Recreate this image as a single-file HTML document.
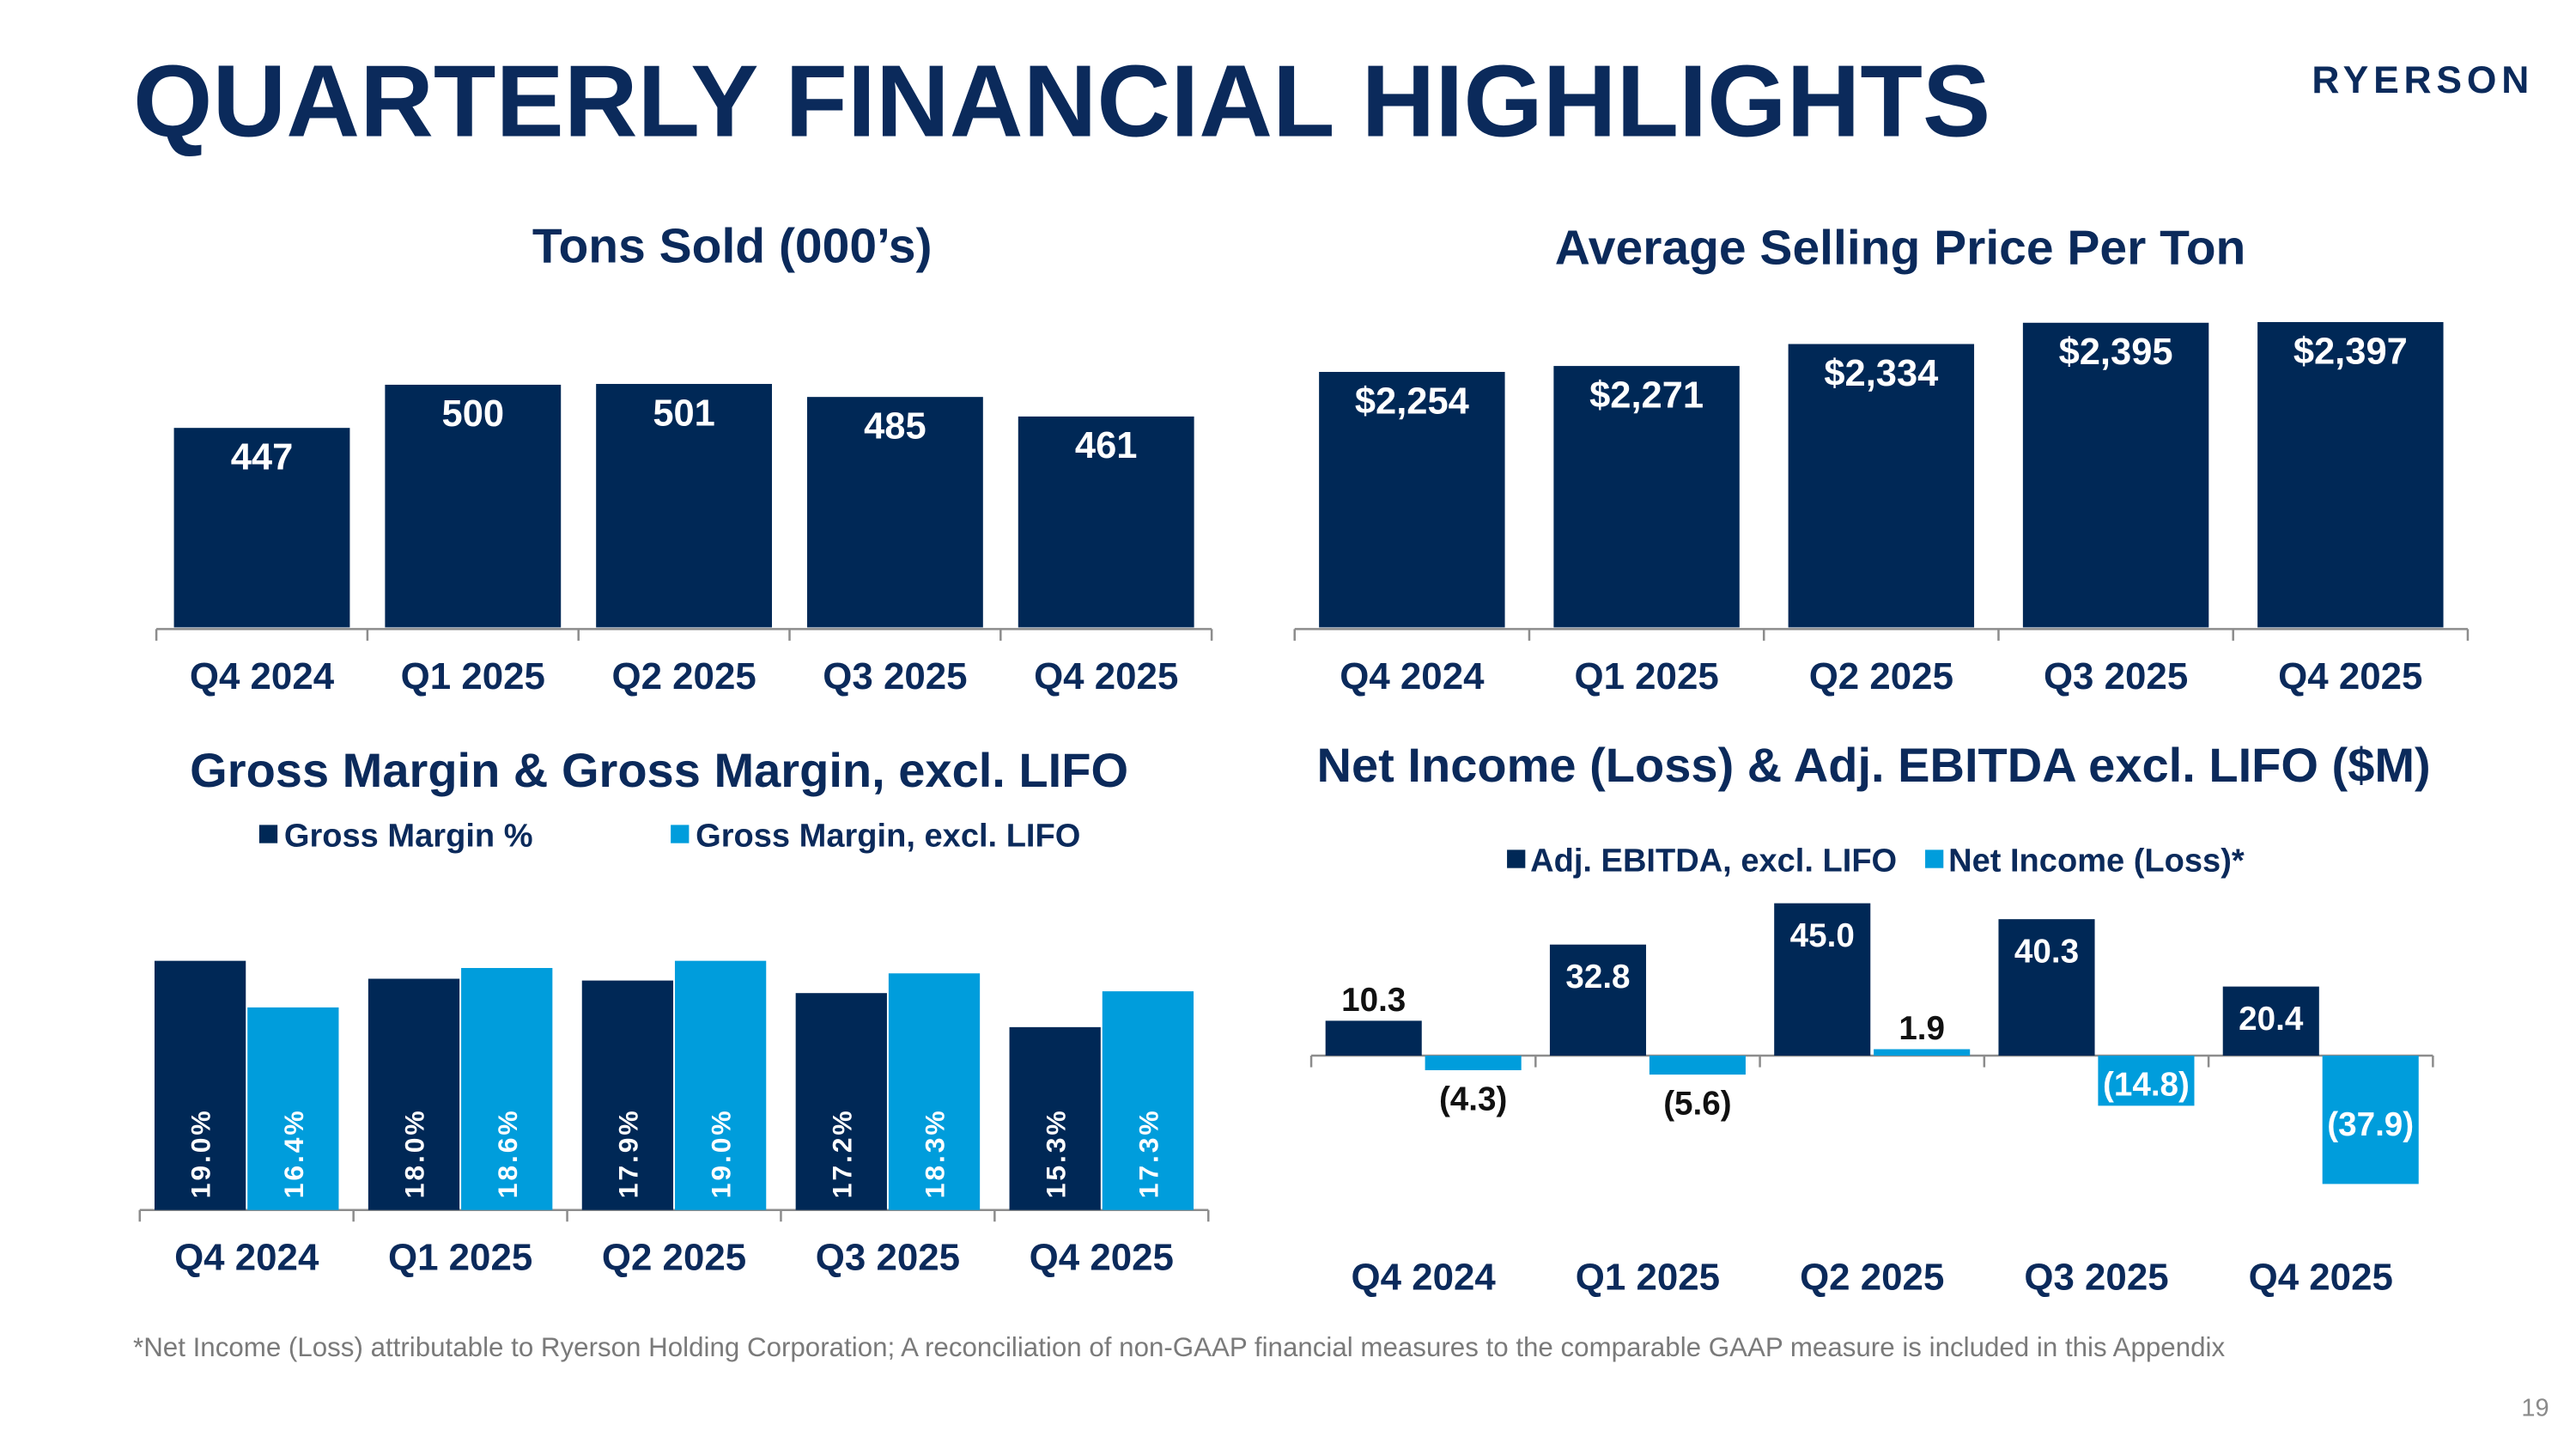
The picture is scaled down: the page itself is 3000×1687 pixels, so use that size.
<!DOCTYPE html>
<html><head><meta charset="utf-8"><style>
html,body{margin:0;padding:0;background:#fff}
svg{display:block;font-family:"Liberation Sans",Arial,sans-serif}
</style></head><body>
<svg id="s" width="3000" height="1687" viewBox="0 0 1552 873" xmlns="http://www.w3.org/2000/svg">
<text x="80" y="82" font-size="61.5" font-weight="bold" fill="#0b2a5b">QUARTERLY FINANCIAL HIGHLIGHTS</text>
<text x="1460" y="56" font-size="23" font-weight="bold" fill="#0b2a5b" text-anchor="middle" letter-spacing="3">RYERSON</text>
<text x="441" y="158" font-size="29.5" font-weight="bold" fill="#0b2a5b" text-anchor="middle">Tons Sold (000’s)</text>
<text x="1145" y="159" font-size="29.5" font-weight="bold" fill="#0b2a5b" text-anchor="middle">Average Selling Price Per Ton</text>
<text x="397" y="474" font-size="29" font-weight="bold" fill="#0b2a5b" text-anchor="middle">Gross Margin &amp; Gross Margin, excl. LIFO</text>
<text x="1129" y="471" font-size="29" font-weight="bold" fill="#0b2a5b" text-anchor="middle">Net Income (Loss) &amp; Adj. EBITDA excl. LIFO ($M)</text>
<g>
<rect x="156" y="497" width="11" height="11" fill="#002856"/><text x="171" y="510" font-size="19.7" font-weight="bold" fill="#0b2a5b">Gross Margin %</text>
<rect x="404" y="497" width="11" height="11" fill="#009ddc"/><text x="419" y="510" font-size="19.7" font-weight="bold" fill="#0b2a5b">Gross Margin, excl. LIFO</text>
</g>
<g>
<rect x="908" y="512" width="11" height="11" fill="#002856"/><text x="922" y="525" font-size="19.7" font-weight="bold" fill="#0b2a5b">Adj. EBITDA, excl. LIFO</text>
<rect x="1160" y="512" width="11" height="11" fill="#009ddc"/><text x="1174" y="525" font-size="19.7" font-weight="bold" fill="#0b2a5b">Net Income (Loss)*</text>
</g>
<text x="80" y="817" font-size="16.2" fill="#7a7a7a">*Net Income (Loss) attributable to Ryerson Holding Corporation; A reconciliation of non-GAAP financial measures to the comparable GAAP measure is included in this Appendix</text>
<text x="1536" y="853" font-size="15" fill="#8a8a8a" text-anchor="end">19</text>
<g id="charts"></g>
</svg>
<script>
const categories=["Q4 2024","Q1 2025","Q2 2025","Q3 2025","Q4 2025"];
const tons=[447,500,501,485,461];
const price=[2254,2271,2334,2395,2397];
const priceLabels=["$2,254","$2,271","$2,334","$2,395","$2,397"];
const grossMargin=[19.0,18.0,17.9,17.2,15.3];
const grossMarginExLifo=[16.4,18.6,19.0,18.3,17.3];
const ebitda=[10.3,32.8,45.0,40.3,20.4];
const netIncome=[-4.3,-5.6,1.9,-14.8,-37.9];
const NS="http://www.w3.org/2000/svg";
const root=document.getElementById('charts');
const DARK="#002856",LIGHT="#009ddc",NAVY="#0b2a5b";
function el(tag,attrs,parent){const e=document.createElementNS(NS,tag);for(const k in attrs)e.setAttribute(k,attrs[k]);(parent||root).appendChild(e);return e;}
function txt(s,attrs,parent){const t=el('text',attrs,parent);t.textContent=s;return t;}
function axis(x0,x1,y,n,labelY,name){
  const g=el('g',{});
  
  
  el('line',{x1:x0,x2:x1,y1:y,y2:y,stroke:"#8c8c8c","stroke-width":1.3},g);
  const w=(x1-x0)/n;
  for(let i=0;i<=n;i++)el('line',{x1:x0+i*w,x2:x0+i*w,y1:y,y2:y+7,stroke:"#8c8c8c","stroke-width":1.3},g);
  categories.forEach((c,i)=>{const t=txt(c,{x:x0+w*(i+0.5),y:labelY,"font-size":22.7,"font-weight":"bold",fill:NAVY,"text-anchor":"middle"},g);
    
    });
  return w;
}
// Tons
(function(){
  const x0=94,x1=730,base=378,k=0.4906,m=202;
  const w=axis(x0,x1,base+1,5,415,'tons-x-axis');
  const y=v=>base-(v-m)*k;
  tons.forEach((v,i)=>{const cx=x0+w*(i+0.5);
    const r=el('rect',{x:cx-53,y:y(v),width:106,height:base-y(v),fill:DARK});
    
    
    const t=txt(String(v),{x:cx,y:y(v)+25,"font-size":22.5,"font-weight":"bold",fill:"#fff","text-anchor":"middle"});
    
    });
})();
// Price
(function(){
  const x0=780,x1=1487,base=378,k=0.21,m=1521;
  const w=axis(x0,x1,base+1,5,415,'price-x-axis');
  const y=v=>base-(v-m)*k;
  price.forEach((v,i)=>{const cx=x0+w*(i+0.5);
    const r=el('rect',{x:cx-56,y:y(v),width:112,height:base-y(v),fill:DARK});
    
    
    const t=txt(priceLabels[i],{x:cx,y:y(v)+25,"font-size":22.5,"font-weight":"bold",fill:"#fff","text-anchor":"middle"});
    
    });
})();
// Gross margin
(function(){
  const x0=84,x1=728,base=729,k=10.8,m=5.1;
  const w=axis(x0,x1,base,5,765,'margin-x-axis');
  const y=v=>base-(v-m)*k;
  [[grossMargin,DARK,-55.5],[grossMarginExLifo,LIGHT,0.5]].forEach(([arr,col,off])=>{
    arr.forEach((v,i)=>{const cx=x0+w*(i+0.5);
      const r=el('rect',{x:cx+off,y:y(v),width:55,height:base-y(v),fill:col});
      
      
      const lx=cx+off+27.5+6;
      const t=txt(v.toFixed(1)+'%',{x:lx,y:722,"font-size":16.5,"font-weight":"bold",fill:"#fff",transform:`rotate(-90 ${lx} 722)`,"letter-spacing":1.5});
      
      });
  });
})();
// Net income & EBITDA
(function(){
  const x0=790,x1=1466,zero=636,k=2.04;
  const w=axis(x0,x1,zero,5,777,'income-x-axis');
  const y=v=>zero-v*k;
  const fmt=v=>v<0?'('+Math.abs(v).toFixed(1)+')':v.toFixed(1);
  ebitda.forEach((v,i)=>{const cx=x0+w*(i+0.5);
    const r=el('rect',{x:cx-59,y:y(v),width:58,height:v*k,fill:DARK});
    
    
    const t=txt(fmt(v),{x:cx-30,y:y(v)-6,"font-size":20,"font-weight":"bold",fill:v>15?"#fff":"#111","text-anchor":"middle"});
    if(v>15)t.setAttribute('y',y(v)+26);
    
    });
  netIncome.forEach((v,i)=>{const cx=x0+w*(i+0.5);
    const top=Math.min(y(v),zero),h=Math.abs(v)*k;
    const r=el('rect',{x:cx+1,y:top,width:58,height:h,fill:LIGHT});
    
    
    let ty,fill="#111";
    if(v>=0){ty=top-6;}
    else if(h>25){ty=zero+24;fill="#fff";if(h>50)ty=zero+48;}
    else{ty=zero+h+24;}
    const t=txt(fmt(v),{x:cx+30,y:ty,"font-size":20,"font-weight":"bold",fill:fill,"text-anchor":"middle"});
    
    });
})();
</script>
</body></html>
